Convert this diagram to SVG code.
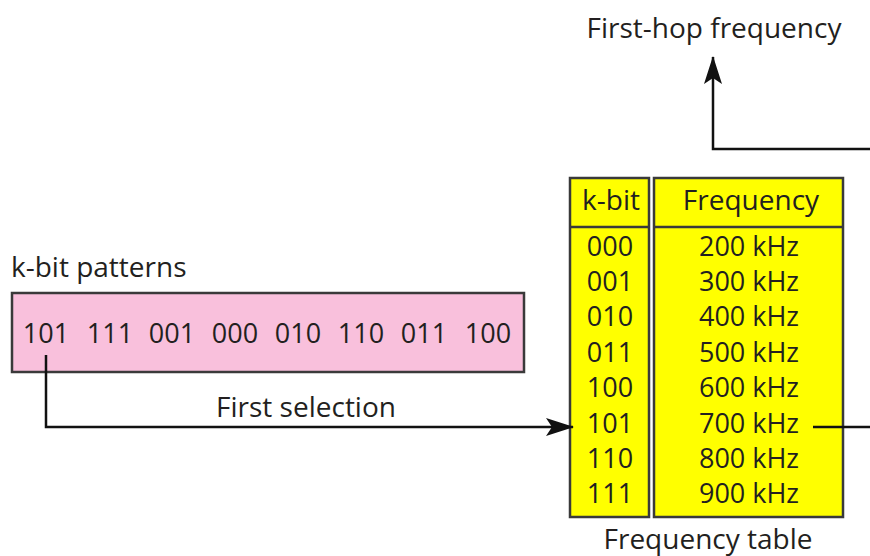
<svg xmlns="http://www.w3.org/2000/svg" width="870" height="556" viewBox="0 0 870 556">
<style>
text{font-family:"Open Sans","Noto Sans","Liberation Sans",sans-serif;font-size:28px;fill:#231f20}
.d{font-size:27px}
.c{text-anchor:middle}
.box{stroke:#3a3a3a;stroke-width:2.5}
.yel{fill:#ffff00}
.conn{fill:none;stroke:#111;stroke-width:2.5}
</style>
<defs>
<marker id="ah" viewBox="0 0 28 20" refX="27" refY="10" markerWidth="28" markerHeight="20" markerUnits="userSpaceOnUse" orient="auto">
<path d="M0,1 L28,10 L0,19 L6,10 Z" fill="#111"/>
</marker>
</defs>
<rect width="870" height="556" fill="#fff"/>
<g id="title-first-hop">
<text x="714" y="38" class="c">First-hop frequency</text>
</g>
<g id="patterns">
<text x="11" y="277">k-bit patterns</text>
<rect class="box" x="12" y="293" width="512" height="79" fill="#f9c0dc"/>
<text x="46" y="343" class="c d">101</text>
<text x="110" y="343" class="c d">111</text>
<text x="172" y="343" class="c d">001</text>
<text x="235" y="343" class="c d">000</text>
<text x="298" y="343" class="c d">010</text>
<text x="361" y="343" class="c d">110</text>
<text x="424" y="343" class="c d">011</text>
<text x="488" y="343" class="c d">100</text>
</g>
<g id="table">
<rect class="box yel" x="570" y="178" width="79" height="339"/>
<rect class="box yel" x="654" y="178" width="189" height="339"/>
<line class="box" x1="570" y1="227" x2="649" y2="227"/>
<line class="box" x1="654" y1="227" x2="843" y2="227"/>
<text x="611" y="210" class="c">k-bit</text>
<text x="751" y="210" class="c">Frequency</text>
<text x="610" y="256" class="c d">000</text>
<text x="610" y="291" class="c d">001</text>
<text x="610" y="326" class="c d">010</text>
<text x="610" y="362" class="c d">011</text>
<text x="610" y="397" class="c d">100</text>
<text x="610" y="433" class="c d">101</text>
<text x="610" y="468" class="c d">110</text>
<text x="610" y="503" class="c d">111</text>
<text x="749" y="256" class="c d">200 kHz</text>
<text x="749" y="291" class="c d">300 kHz</text>
<text x="749" y="326" class="c d">400 kHz</text>
<text x="749" y="362" class="c d">500 kHz</text>
<text x="749" y="397" class="c d">600 kHz</text>
<text x="749" y="433" class="c d">700 kHz</text>
<text x="749" y="468" class="c d">800 kHz</text>
<text x="749" y="503" class="c d">900 kHz</text>
<text x="708" y="549" class="c">Frequency table</text>
</g>
<g id="connectors">
<path class="conn" d="M46,355 V427 H573" marker-end="url(#ah)"/>
<text x="306" y="417" class="c">First selection</text>
<path class="conn" d="M813,427 H870"/>
<path class="conn" d="M870,149 H713 V57" marker-end="url(#ah)"/>
</g>
</svg>
